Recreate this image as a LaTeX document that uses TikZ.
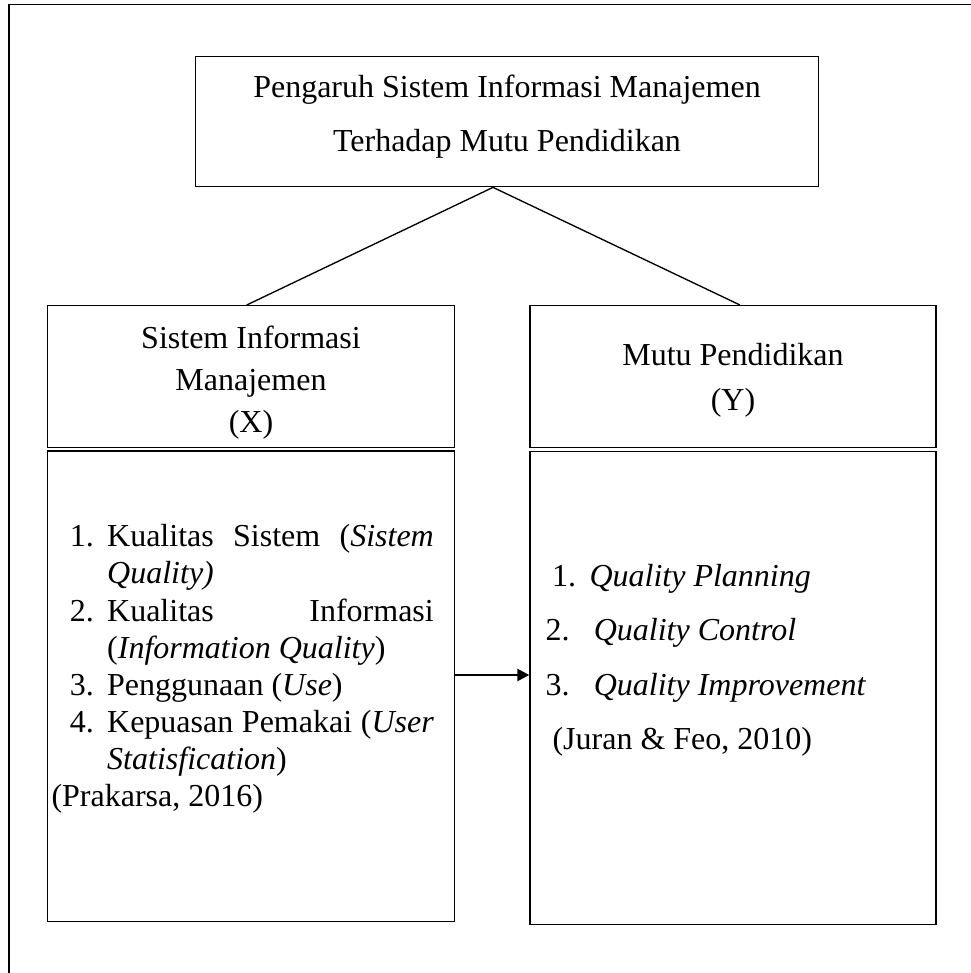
\documentclass[tikz,border=0pt]{standalone}
\usepackage{fontspec}
\setmainfont{Liberation Serif}
\usetikzlibrary{arrows.meta,positioning}
\tikzset{kotak/.style={draw,line width=0.5pt,inner sep=0pt},
  judulteks/.style={inner sep=0pt,align=center,font=\fontsize{12}{#1}\selectfont},
  baris/.style={anchor=base west,inner sep=0pt,font=\fontsize{12}{14}\selectfont},
  panah/.style={-{Triangle[length=4.5pt,width=4.5pt]},line width=0.9pt}}

\begin{document}
\begin{tikzpicture}[x=0.375pt,y=-0.375pt]
\useasboundingbox (0,0) rectangle (971,973);
% bingkai luar
\draw[line width=0.5pt] (9,973) -- (9,4.3) -- (971,4.3);

% judul
\node[kotak,minimum width=233.4pt,minimum height=48.75pt] (judul) at (507,121.7) {};
\node[judulteks=20.6pt] (judult) at ([yshift=1.9pt]judul.center)
  {Pengaruh Sistem Informasi Manajemen\\Terhadap Mutu Pendidikan};

% variabel X dan Y
\node[kotak,minimum width=152.5pt,minimum height=53.2pt] (xhead) at (251,376.6) {};
\node[judulteks=15.9pt] (xheadt) at ([yshift=-2.25pt]xhead.center) {Sistem Informasi\\Manajemen\\(X)};
\node[kotak,minimum width=152.25pt,minimum height=53.2pt] (yhead) at (733,376.6) {};
\node[judulteks=16.9pt] (yheadt) at ([yshift=-1.5pt]yhead.center) {Mutu Pendidikan\\(Y)};
\node[kotak,minimum width=152.5pt,minimum height=176.4pt] (xbody) at (251,686.2) {};
\node[kotak,minimum width=152.25pt,minimum height=177.4pt] (ybody) at (733,688.2) {};

\coordinate (puncak) at ([xshift=-5.25pt]judul.south);
\draw[line width=0.5pt] (puncak) -- ([xshift=-1.6pt]xhead.north);
\draw[line width=0.5pt] (puncak) -- ([xshift=2.6pt]yhead.north);

% indikator X
\node[baris] (x1) at (69.3,546.7) {\makebox[14pt][l]{1.}\hbox to 122.5pt{Kualitas\hfill Sistem\hfill(\textit{Sistem}}};
\node[baris] (x1b) at (106.7,583.3) {\textit{Quality)}};
\node[baris] (x2) at (69.3,621) {\makebox[14pt][l]{2.}\hbox to 122.5pt{Kualitas\hfill Informasi}};
\node[baris] (x2b) at (106.7,658.3) {(\textit{Information Quality})};
\node[baris] (x3) at (69.3,695) {\makebox[14pt][l]{3.}Penggunaan (\textit{Use})};
\node[baris] (x4) at (69.3,732) {\makebox[14pt][l]{4.}\hbox to 122.5pt{Kepuasan\hfill Pemakai\hfill(\textit{User}}};
\node[baris] (x4b) at (106.7,769) {\textit{Statisfication})};
\node[baris] (xsumber) at (51,806) {(Prakarsa, 2016)};

% indikator Y
\node[baris] (y1) at (551.7,586.7) {\makebox[14pt][l]{1.}\textit{Quality Planning}};
\node[baris] (y2) at (545,640.7) {\makebox[18.1pt][l]{2.}\textit{Quality Control}};
\node[baris] (y3) at (545,695) {\makebox[18.1pt][l]{3.}\textit{Quality Improvement}};
\node[baris] (ysumber) at (552,749) {(Juran \& Feo, 2010)};

\coordinate (panahy) at (0,675);
\draw[panah] (xbody.east |- panahy) -- (ybody.west |- panahy);
\end{tikzpicture}
\end{document}
